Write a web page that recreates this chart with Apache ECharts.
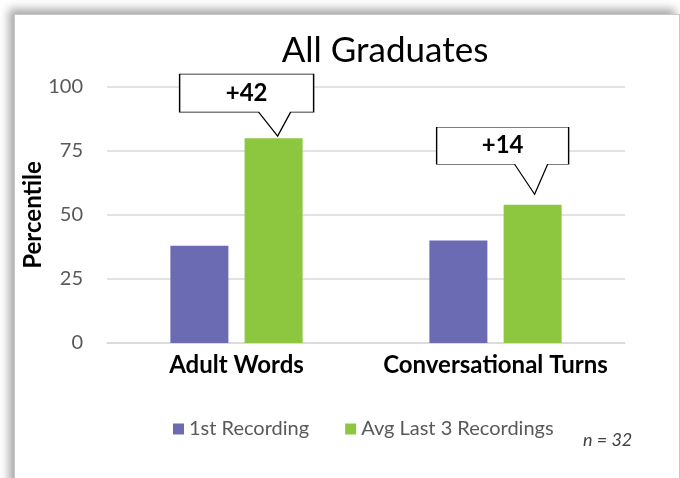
<!DOCTYPE html>
<html>
<head>
<meta charset="utf-8">
<script src="https://cdn.jsdelivr.net/npm/echarts@6/dist/echarts.min.js"></script>
<style>
  html, body { margin: 0; padding: 0; background: #fff; }
  #frame {
    position: absolute; left: 14px; top: 14px; width: 664px; height: 480px;
    border: 1px solid #c8c8c8; background: #fff;
    box-shadow: -5px -5px 9px rgba(0, 0, 0, 0.35);
  }
  #main { position: absolute; left: 0; top: 0; width: 680px; height: 478px; }
</style>
</head>
<body>
<div id="frame"></div>
<div id="main"></div>
<script>
var categories = ['Adult Words', 'Conversational Turns'];
var firstRecording = [38, 40];
var avgLast3 = [80, 54];
var yTicks = [0, 25, 50, 75, 100];

var FONT = 'Lato';

var myChart = echarts.init(document.getElementById('main'));

// callout bubbles: box with a pointer towards the green bar
var callouts = [
  {
    symbol: 'path://M0 0 L134 0 L134 38 L111 38 L98 62 L79 38 L0 38 Z',
    symbolSize: [134, 62],
    symbolOffset: [-27, -33],
    labelOffset: [0, -12]
  },
  {
    symbol: 'path://M0 0 L132 0 L132 37 L111 37 L98 67 L78 37 L0 37 Z',
    symbolSize: [132, 67],
    symbolOffset: [-30, -44],
    labelOffset: [0, -15]
  }
];

var markData = categories.map(function (c, i) {
  var diff = avgLast3[i] - firstRecording[i];
  return {
    coord: [i, avgLast3[i]],
    value: '+' + diff,
    symbol: callouts[i].symbol,
    symbolSize: callouts[i].symbolSize,
    symbolOffset: callouts[i].symbolOffset,
    label: { offset: callouts[i].labelOffset }
  };
});

var option = {
  animation: false,
  title: {
    text: 'All Graduates',
    left: 380,
    top: 28,
    textAlign: 'center',
    textStyle: { fontFamily: FONT, fontSize: 35, fontWeight: 'normal', color: '#000' }
  },
  legend: {
    data: ['1st Recording', 'Avg Last 3 Recordings'],
    left: 168,
    top: 414,
    icon: 'rect',
    itemWidth: 11,
    itemHeight: 11,
    itemGap: 36,
    textStyle: { fontFamily: FONT, fontSize: 20, color: '#595959' }
  },
  grid: { left: 107, right: 55, top: 87, bottom: 135 },
  xAxis: {
    type: 'category',
    data: categories,
    axisLine: { lineStyle: { color: '#d9d9d9', width: 1.5 } },
    axisTick: { show: false },
    axisLabel: {
      interval: 0,
      hideOverlap: false,
      margin: 10,
      fontFamily: FONT,
      fontSize: 24,
      fontWeight: 'bold',
      color: '#000'
    }
  },
  yAxis: {
    type: 'value',
    min: yTicks[0],
    max: yTicks[yTicks.length - 1],
    interval: 25,
    name: 'Percentile',
    nameLocation: 'middle',
    nameGap: 62,
    nameMoveOverlap: false,
    nameTextStyle: { fontFamily: FONT, fontSize: 24, fontWeight: 'bold', color: '#000' },
    axisLine: { show: false },
    axisTick: { show: false },
    axisLabel: { margin: 24, fontFamily: FONT, fontSize: 20, color: '#595959' },
    splitLine: { lineStyle: { color: '#d9d9d9', width: 1.5 } }
  },
  series: [
    {
      name: '1st Recording',
      type: 'bar',
      data: firstRecording,
      barWidth: 58,
      barGap: '28%',
      itemStyle: { color: '#6b6bb3' }
    },
    {
      name: 'Avg Last 3 Recordings',
      type: 'bar',
      data: avgLast3,
      barWidth: 58,
      barGap: '28%',
      itemStyle: { color: '#8dc63f' },
      markPoint: {
        silent: true,
        itemStyle: { color: '#fff', borderColor: '#000', borderWidth: 1 },
        label: {
          show: true,
          position: 'inside',
          fontFamily: FONT,
          fontSize: 24,
          fontWeight: 'bold',
          color: '#000',
          formatter: function (p) { return p.value; }
        },
        data: markData
      }
    }
  ],
  graphic: [
    {
      type: 'text',
      left: 583,
      top: 431,
      style: {
        text: 'n = 32',
        fontFamily: FONT,
        fontSize: 18,
        fontStyle: 'italic',
        fill: '#404040'
      }
    }
  ]
};

myChart.setOption(option);
</script>
</body>
</html>
